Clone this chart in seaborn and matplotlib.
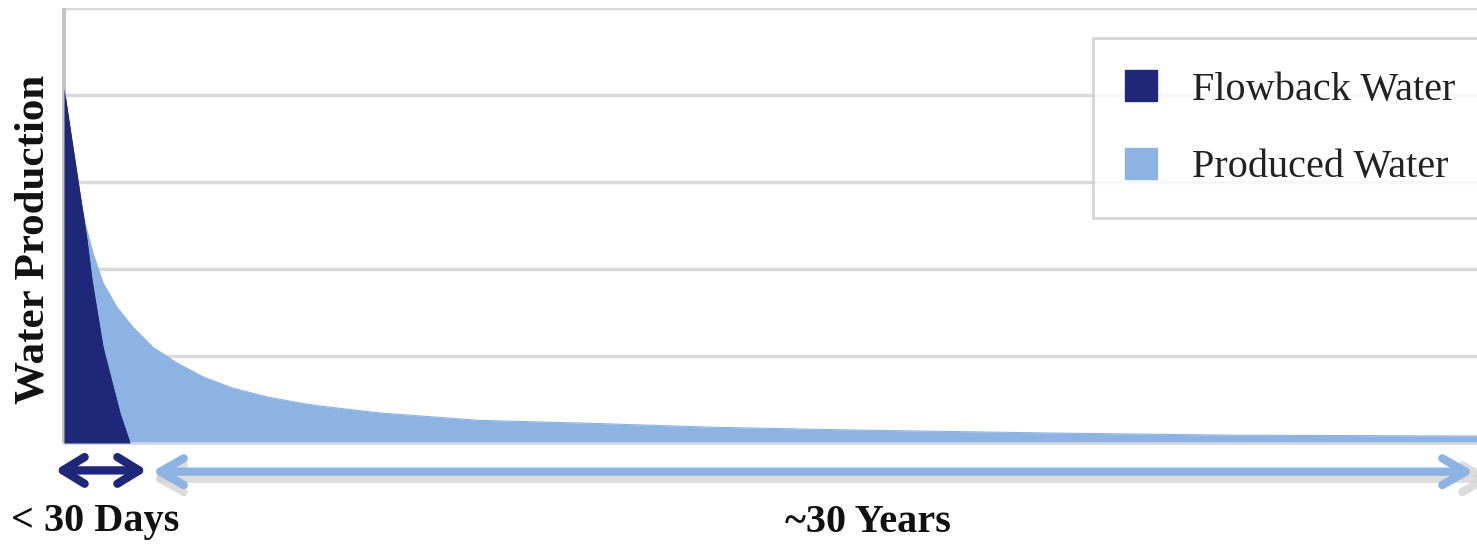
import numpy as np
import pandas as pd
import matplotlib
matplotlib.use("Agg")
import matplotlib.pyplot as plt
import matplotlib.patches as mpatches
from matplotlib.transforms import offset_copy
import seaborn as sns

# Time axis (arbitrary units along the well's life) and water rates
produced_t = [0, 13, 21, 29, 39, 53, 69, 89, 113, 139, 169, 203, 236, 256,
              316, 416, 516, 653, 786, 986, 1169, 1413, 1430]
produced_rate = [4.08, 3.02, 2.53, 2.18, 1.84, 1.56, 1.33, 1.10, 0.92, 0.76,
                 0.63, 0.53, 0.46, 0.425, 0.345, 0.26, 0.23, 0.18, 0.15,
                 0.115, 0.09, 0.08, 0.08]

flowback_t = [0, 23, 28, 39, 56, 66]
flowback_rate = [4.08, 2.33, 1.87, 1.10, 0.34, 0.0]

series_names = ["Flowback Water", "Produced Water"]
period_labels = ["< 30 Days", "~30 Years"]
y_label = "Water Production"

DARK = "#1f2778"
LIGHT = "#8db3e2"
GRID = "#d9d9d9"

sns.set_theme(style="white")
plt.rcParams["font.family"] = ["Liberation Serif", "DejaVu Serif"]

fig = plt.figure(figsize=(14.77, 5.45), dpi=100)
ax = fig.add_axes([64 / 1477, 102 / 545, 1430 / 1477, 435 / 545])

produced = pd.DataFrame({"t": produced_t, "rate": produced_rate})
flowback = pd.DataFrame({"t": flowback_t, "rate": flowback_rate})

sns.lineplot(data=produced, x="t", y="rate", color=LIGHT, lw=0.8, ax=ax)
ax.fill_between(produced["t"], produced["rate"], color=LIGHT, lw=0, zorder=2)
sns.lineplot(data=flowback, x="t", y="rate", color=DARK, lw=0.8, ax=ax)
ax.fill_between(flowback["t"], flowback["rate"], color=DARK, lw=0, zorder=3)

ax.set_xlim(0, 1430)
ax.set_ylim(0, 5)
ax.set_yticks([1, 2, 3, 4, 5])
ax.set_xticks([])
ax.set_yticklabels([])
ax.tick_params(left=False, bottom=False)
ax.grid(axis="y", color=GRID, lw=2.5)
ax.set_axisbelow(True)
for side in ["top", "right"]:
    ax.spines[side].set_visible(False)
ax.spines["left"].set_color("#c4c4c4")
ax.spines["left"].set_linewidth(3)
ax.spines["left"].set_capstyle("butt")
ax.spines["bottom"].set_color("#cfd8e6")
ax.spines["bottom"].set_linewidth(2)
ax.set_xlabel("")
ax.set_ylabel(y_label, fontsize=31, fontweight="bold", color="#111111")
ax.yaxis.set_label_coords(-11 / 1430, 0.467)

# Legend with square swatches
handles = [mpatches.Patch(facecolor=DARK, edgecolor=DARK, label=series_names[0]),
           mpatches.Patch(facecolor=LIGHT, edgecolor=LIGHT, label=series_names[1])]
leg = fig.legend(handles=handles, loc="upper left",
                 bbox_to_anchor=(1093 / 1477, 1 - 38 / 545),
                 fontsize=29, frameon=True, fancybox=False,
                 borderpad=0.8, labelspacing=0.97, handlelength=0.8,
                 handleheight=0.8, handletextpad=0.85, borderaxespad=0)
leg.get_frame().set_edgecolor("#cccccc")
leg.get_frame().set_linewidth(2)
for txt in leg.get_texts():
    txt.set_color("#222222")

# Period arrows beneath the axis
trans = ax.get_xaxis_transform()
fb_end = flowback_t[-1]
ax.annotate("", xy=(-9, -0.063), xytext=(fb_end + 17, -0.063), xycoords=trans,
            textcoords=trans, annotation_clip=False,
            arrowprops=dict(arrowstyle="<->,head_length=1.3,head_width=0.8",
                            color=DARK, lw=6, shrinkA=0, shrinkB=0))
shadow = offset_copy(trans, fig=fig, x=0, y=-7, units="dots")
ax.annotate("", xy=(fb_end + 22, -0.066), xytext=(1430, -0.066), xycoords=shadow,
            textcoords=shadow, annotation_clip=False,
            arrowprops=dict(arrowstyle="<->,head_length=1.4,head_width=0.8",
                            color="#d4d4d4", lw=6, shrinkA=0, shrinkB=0, alpha=0.8))
ax.annotate("", xy=(fb_end + 22, -0.066), xytext=(1410, -0.066), xycoords=trans,
            textcoords=trans, annotation_clip=False,
            arrowprops=dict(arrowstyle="<->,head_length=1.4,head_width=0.8",
                            color=LIGHT, lw=6, shrinkA=0, shrinkB=0))

fig.text(95 / 1477, 1 - 522 / 545, period_labels[0], ha="center", va="center",
         fontsize=29, fontweight="bold", color="#111111")
fig.text(868 / 1477, 1 - 522 / 545, period_labels[1], ha="center", va="center",
         fontsize=29, fontweight="bold", color="#111111")

fig.savefig("out.png", dpi=100)
